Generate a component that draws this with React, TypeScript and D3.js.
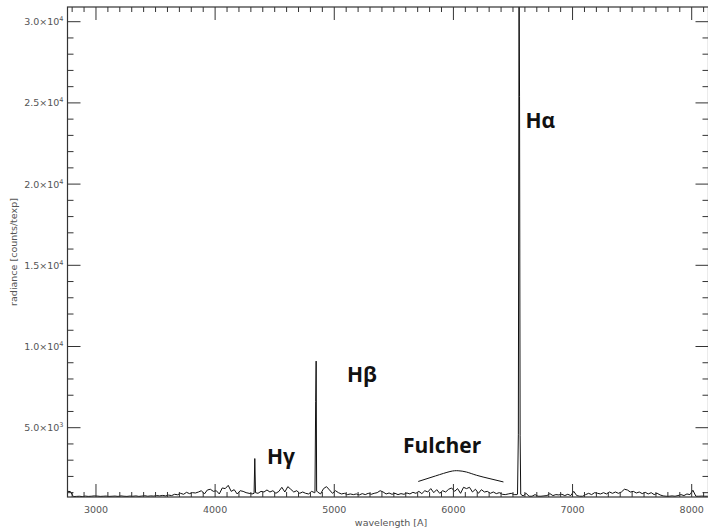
import React from 'react';
import * as d3 from 'd3';

const W = 708;
const H = 532;
const frame = { left: 67.5, right: 708.5, top: 7, bottom: 497 };

// Wavelength axis range [Å] and radiance range [counts/texp]
const wlDomain = [2761, 8141];
const radDomain = [733, 30905];

// Continuum sampled on a regular wavelength grid
const wlStart = 2760;
const wlStep = 25;
const continuum = [
  1080, 1070, 760, 770, 780, 760, 790, 770, 780, 800,
  790, 770, 780, 790, 770, 780, 790, 770, 800, 780,
  770, 790, 780, 800, 770, 790, 810, 780, 800, 790,
  820, 800, 830, 800, 850, 820, 900, 870, 960, 900,
  1020, 940, 1000,
  980, 1040, 1120, 920, 1165, 1210, 1080, 1120, 920, 1290,
  1250, 1450, 1080, 1185, 920, 1120, 1080, 1000, 960, 920,
  950, 960, 1080, 1040, 1165, 1040, 1120, 960, 1080, 1330,
  1040, 1370, 1210, 1040, 1120, 960, 1040, 960, 920, 1080,
  1000, 1040, 920,
  1250, 1370, 1165, 960, 1120, 1000, 920, 960, 880, 920,
  880, 920, 860, 940, 880, 960, 900, 960, 1000, 1120,
  1040, 920, 980, 900, 960, 880, 940, 900, 980, 920,
  1020, 960, 1080, 940, 1120, 1040, 1250, 1000, 1185, 960,
  1120, 1040, 1210,
  1290, 1080, 1250, 960, 1330, 1250, 1330, 1040, 1210, 960,
  1185, 1040, 1080, 960, 1040, 940, 1000, 900, 880, 920,
  960, 880, 880, 860, 800, 960, 780, 780, 880, 780,
  780, 800, 820, 940, 820, 880, 860, 900, 820, 900,
  820, 1080, 820,
  780, 780, 880, 960, 880, 1000, 960, 920, 1000, 920,
  1040, 960, 1040, 960, 1040, 1210, 1165, 1040, 1080, 980,
  1040, 940, 1020, 920, 1000, 880, 960, 860, 800, 780,
  780, 800, 780, 820, 880, 820, 920, 880, 1150, 780,
  780, 790, 780, 780,
];

// Balmer emission line profiles
const hGammaWl = [4327, 4333, 4339];
const hGammaVal = [960, 3100, 1000];
const hBetaWl = [4838, 4844, 4848, 4852];
const hBetaVal = [1000, 6600, 9100, 1100];
const hAlphaWl = [6538, 6545, 6551, 6555, 6560, 6565];
const hAlphaVal = [900, 4600, 32500, 25400, 4500, 900];

// Envelope sketched over the Fulcher band
const fulcherWl = [5705, 5850, 5971, 6040, 6110, 6195, 6307, 6420];
const fulcherVal = [1690, 2030, 2300, 2350, 2270, 2070, 1860, 1660];

// Line labels, anchored at (wavelength, radiance)
const labelText = ['Hα', 'Hβ', 'Hγ', 'Fulcher'];
const labelWl = [6605, 5107, 4435, 5577];
const labelVal = [23455, 7814, 2765, 3442];

const xMajor = [3000, 4000, 5000, 6000, 7000, 8000];
const yMajor = [5000, 10000, 15000, 20000, 25000, 30000];
const yMantissa = ['5.0', '1.0', '1.5', '2.0', '2.5', '3.0'];
const yExponent = ['3', '4', '4', '4', '4', '4'];

export default function App() {
  const x = d3.scaleLinear().domain(wlDomain).range([frame.left, frame.right]);
  const y = d3.scaleLinear().domain(radDomain).range([frame.bottom, frame.top]);

  const lines = [
    { wl: hGammaWl, val: hGammaVal },
    { wl: hBetaWl, val: hBetaVal },
    { wl: hAlphaWl, val: hAlphaVal },
  ];
  const inLine = (w: number) =>
    lines.some((l) => w >= l.wl[0] && w <= l.wl[l.wl.length - 1]);

  const pts: [number, number][] = [];
  continuum.forEach((v, i) => {
    const w = wlStart + i * wlStep;
    if (!inLine(w)) pts.push([w, v]);
  });
  lines.forEach((l) => l.wl.forEach((w, i) => pts.push([w, l.val[i]])));
  pts.sort((a, b) => a[0] - b[0]);

  const spectrumPath = d3
    .line<[number, number]>()
    .x((d) => x(d[0]))
    .y((d) => y(d[1]))(pts);

  const fulcherPath = d3
    .line<number>()
    .x((w) => x(w))
    .y((_, i) => y(fulcherVal[i]))
    .curve(d3.curveNatural)(fulcherWl);

  const xMinor = d3.range(2800, 8141, 100).filter((v) => v % 1000 !== 0);
  const yMinor = d3.range(1000, 30905, 1000).filter((v) => v % 5000 !== 0);

  const axisColor = '#333';
  const majorLen = 13;
  const minorLen = 6;
  const tickFont = { fontFamily: 'DejaVu Sans, Arial, sans-serif', fontSize: 9.5, fill: '#555' };

  return (
    <svg
      width={W}
      height={H}
      style={{ position: 'absolute', left: 0, top: 0, background: '#fff' }}
    >
      <rect x={0} y={0} width={W} height={H} fill="#fff" />
      <defs>
        <clipPath id="plot-area">
          <rect
            x={frame.left}
            y={frame.top}
            width={frame.right - frame.left}
            height={frame.bottom - frame.top}
          />
        </clipPath>
      </defs>

      {/* spectrum */}
      <path
        d={spectrumPath || ''}
        fill="none"
        stroke="#111"
        strokeWidth={1}
        clipPath="url(#plot-area)"
      />

      {/* Fulcher band envelope */}
      <path d={fulcherPath || ''} fill="none" stroke="#111" strokeWidth={1} />

      {/* frame */}
      <rect
        x={frame.left}
        y={frame.top}
        width={frame.right - frame.left}
        height={frame.bottom - frame.top}
        fill="none"
        stroke={axisColor}
        strokeWidth={1.2}
      />

      {/* x ticks, bottom and top */}
      {xMajor.map((v) => (
        <g key={'xM' + v}>
          <line x1={x(v)} x2={x(v)} y1={frame.bottom} y2={frame.bottom - majorLen} stroke={axisColor} />
          <line x1={x(v)} x2={x(v)} y1={frame.top} y2={frame.top + majorLen} stroke={axisColor} />
          <text x={x(v)} y={frame.bottom + 16} textAnchor="middle" {...tickFont}>
            {v}
          </text>
        </g>
      ))}
      {xMinor.map((v) => (
        <g key={'xm' + v}>
          <line x1={x(v)} x2={x(v)} y1={frame.bottom} y2={frame.bottom - 5} stroke={axisColor} />
          <line x1={x(v)} x2={x(v)} y1={frame.top} y2={frame.top + 5} stroke={axisColor} />
        </g>
      ))}

      {/* y ticks, left and right */}
      {yMajor.map((v, i) => (
        <g key={'yM' + v}>
          <line x1={frame.left} x2={frame.left + majorLen} y1={y(v)} y2={y(v)} stroke={axisColor} />
          <line x1={frame.right} x2={frame.right - majorLen} y1={y(v)} y2={y(v)} stroke={axisColor} />
          <text x={frame.left - 4} y={y(v) + 3.5} textAnchor="end" {...tickFont}>
            {yMantissa[i]}×10
            <tspan dy={-4} fontSize={6.5}>
              {yExponent[i]}
            </tspan>
          </text>
        </g>
      ))}
      {yMinor.map((v) => (
        <g key={'ym' + v}>
          <line x1={frame.left} x2={frame.left + minorLen} y1={y(v)} y2={y(v)} stroke={axisColor} />
          <line x1={frame.right} x2={frame.right - minorLen} y1={y(v)} y2={y(v)} stroke={axisColor} />
        </g>
      ))}

      {/* axis titles */}
      <text x={(frame.left + frame.right) / 2 + 3} y={526} textAnchor="middle" {...tickFont}>
        wavelength [A]
      </text>
      <text
        transform={`translate(17, ${(frame.top + frame.bottom) / 2}) rotate(-90)`}
        textAnchor="middle"
        {...tickFont}
      >
        radiance [counts/texp]
      </text>

      {/* line labels */}
      {labelText.map((t, i) => (
        <text
          key={t}
          x={x(labelWl[i])}
          y={y(labelVal[i])}
          fontFamily="'Open Sans', sans-serif"
          fontWeight={700}
          fontSize={21}
          fill="#111"
        >
          {t}
        </text>
      ))}
    </svg>
  );
}
